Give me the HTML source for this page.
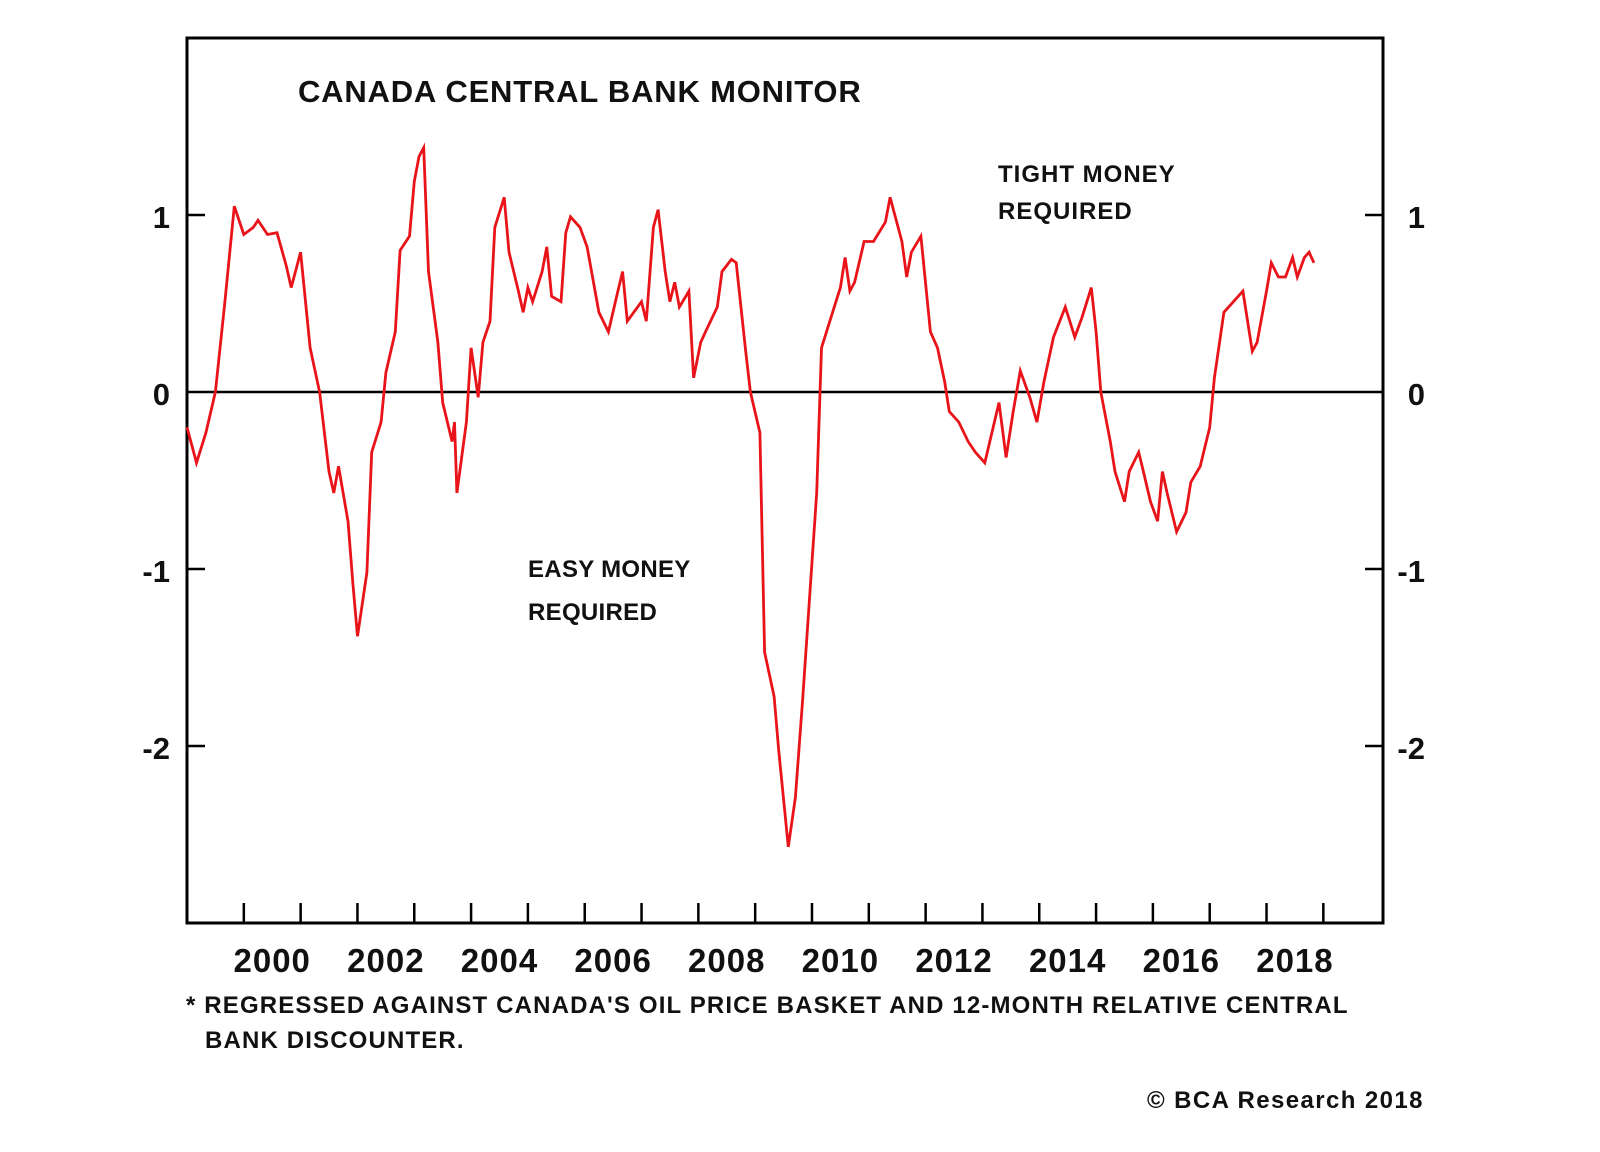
<!DOCTYPE html>
<html><head><meta charset="utf-8"><style>
html,body{margin:0;padding:0;background:#fff;}
svg{display:block;font-family:"Liberation Sans",Arial,sans-serif;}
</style></head><body>
<svg id="chart" width="1600" height="1152" viewBox="0 0 1600 1152" xmlns="http://www.w3.org/2000/svg">
<rect x="187" y="38" width="1196" height="885" fill="#fff" stroke="#000" stroke-width="3"/>
<g id="axes"></g>
<g id="series"></g>
<text x="298" y="102" font-size="31" font-weight="bold" fill="#111" letter-spacing="0.8">CANADA CENTRAL BANK MONITOR</text>
<text x="998" y="182" font-size="24" font-weight="bold" fill="#111" letter-spacing="1">TIGHT MONEY</text>
<text x="998" y="219" font-size="24" font-weight="bold" fill="#111" letter-spacing="1">REQUIRED</text>
<text x="528" y="577" font-size="24" font-weight="bold" fill="#111" letter-spacing="0.3">EASY MONEY</text>
<text x="528" y="620" font-size="24" font-weight="bold" fill="#111" letter-spacing="0.3">REQUIRED</text>
<text x="186" y="1013" font-size="24" font-weight="bold" fill="#111" letter-spacing="1.15">* REGRESSED AGAINST CANADA'S OIL PRICE BASKET AND 12-MONTH RELATIVE CENTRAL</text>
<text x="205" y="1048" font-size="24" font-weight="bold" fill="#111" letter-spacing="1.15">BANK DISCOUNTER.</text>
<text x="1147" y="1108" font-size="24" font-weight="bold" fill="#111" letter-spacing="1.4">© BCA Research 2018</text>
</svg>
<script>
const months = [0,2,4,6,8,10,12,14,15,17,19,21,22,24,26,28,30,31,32,34,35,36,38,39,41,42,44,45,47,48,49,50,51,53,54,56,56.5,57,59,60,61.5,62.5,64,65,67,68,70,71,72,73,75,76,77,79,80,81,83,84.5,87,89,91,92,93,96,97,98.5,99.5,101,102,103,104,106,107,108.5,109.5,112,113,115,116,118,119,121,122,124,125,127,128.5,130,132,133,134,136,138,139,140,141,143,145,147.5,148.5,151,152,153,155,157,158.5,160,161,163,165,166.5,168.5,170,171.5,173,174.5,176,178,179.5,181,183,185.5,187.5,189,191,192,193,195,196,198,199,201,202,203.5,205,206,207,209,211,212,214,216,217,219,221,223,225,226,228,229,230.5,232,233.5,234.5,236,237,238];
const values = [-0.20,-0.40,-0.23,0,0.51,1.05,0.89,0.93,0.97,0.89,0.90,0.71,0.59,0.79,0.25,0,-0.45,-0.57,-0.42,-0.73,-1.07,-1.38,-1.02,-0.34,-0.17,0.11,0.34,0.80,0.88,1.19,1.33,1.38,0.68,0.28,-0.06,-0.28,-0.17,-0.57,-0.17,0.25,-0.03,0.28,0.40,0.93,1.10,0.79,0.57,0.45,0.59,0.51,0.68,0.82,0.54,0.51,0.90,0.99,0.93,0.82,0.45,0.34,0.57,0.68,0.40,0.51,0.40,0.93,1.03,0.68,0.51,0.62,0.48,0.57,0.08,0.28,0.34,0.48,0.68,0.75,0.73,0.23,0,-0.23,-1.47,-1.72,-2.03,-2.57,-2.29,-1.75,-0.96,-0.57,0.25,0.42,0.59,0.76,0.57,0.62,0.85,0.85,0.96,1.10,0.85,0.65,0.79,0.88,0.34,0.25,0.06,-0.11,-0.17,-0.28,-0.34,-0.40,-0.23,-0.06,-0.37,-0.11,0.12,-0.03,-0.17,0.06,0.31,0.48,0.31,0.42,0.59,0.34,0,-0.28,-0.45,-0.62,-0.45,-0.34,-0.45,-0.62,-0.73,-0.45,-0.57,-0.79,-0.68,-0.51,-0.42,-0.20,0.08,0.45,0.51,0.57,0.23,0.28,0.57,0.73,0.65,0.65,0.76,0.65,0.76,0.79,0.73];
const yTicks = [1,0,-1,-2];
const yTickLabels = ["1","0","-1","-2"];
const yearLabels = ["2000","2002","2004","2006","2008","2010","2012","2014","2016","2018"];

const X0=187,X1=1383,Y0=38,Y1=923;
const xMin=1999,xMax=2020.05,yMin=-3,yMax=2;
function xs(t){return X0+(t-xMin)/(xMax-xMin)*(X1-X0);}
function ys(v){return Y1-(v-yMin)/(yMax-yMin)*(Y1-Y0);}
const NS="http://www.w3.org/2000/svg";
const axes=document.getElementById('axes');
function mk(tag,attrs,parent){const e=document.createElementNS(NS,tag);for(const k in attrs)e.setAttribute(k,attrs[k]);parent.appendChild(e);return e;}

const zl=mk('line',{x1:X0,x2:X1,y1:ys(0),y2:ys(0),stroke:'#000','stroke-width':2.5},axes);



yTicks.forEach((v,i)=>{
  if(v!==0){
    const a=mk('line',{x1:X0,x2:X0+18,y1:ys(v),y2:ys(v),stroke:'#000','stroke-width':2.5},axes);
    
    
    const b=mk('line',{x1:X1-18,x2:X1,y1:ys(v),y2:ys(v),stroke:'#000','stroke-width':2.5},axes);
    
    
  }
  const l=mk('text',{x:170,y:ys(v)+13,'font-size':31,'font-weight':'bold','text-anchor':'end',fill:'#111'},axes);
  l.textContent=yTickLabels[i];
  
  
  const r=mk('text',{x:1425,y:ys(v)+13,'font-size':31,'font-weight':'bold','text-anchor':'end',fill:'#111'},axes);
  r.textContent=yTickLabels[i];
  
  
});
for(let yr=2000;yr<=2019;yr++){
  const t=mk('line',{x1:xs(yr),x2:xs(yr),y1:Y1,y2:Y1-20,stroke:'#000','stroke-width':2.5},axes);
  
  
}
yearLabels.forEach(s=>{
  const yr=+s;
  const l=mk('text',{x:xs(yr+0.5),y:972,'font-size':33,'font-weight':'bold','text-anchor':'middle',fill:'#111','letter-spacing':1},axes);
  l.textContent=s;
  
  
});
const pts=months.map((m,i)=>xs(xMin+m/12).toFixed(1)+','+ys(values[i]).toFixed(1)).join(' ');
const line=mk('polyline',{points:pts,fill:'none',stroke:'#e8141a','stroke-width':2.8,'stroke-linejoin':'miter'},document.getElementById('series'));


</script>
</body></html>
